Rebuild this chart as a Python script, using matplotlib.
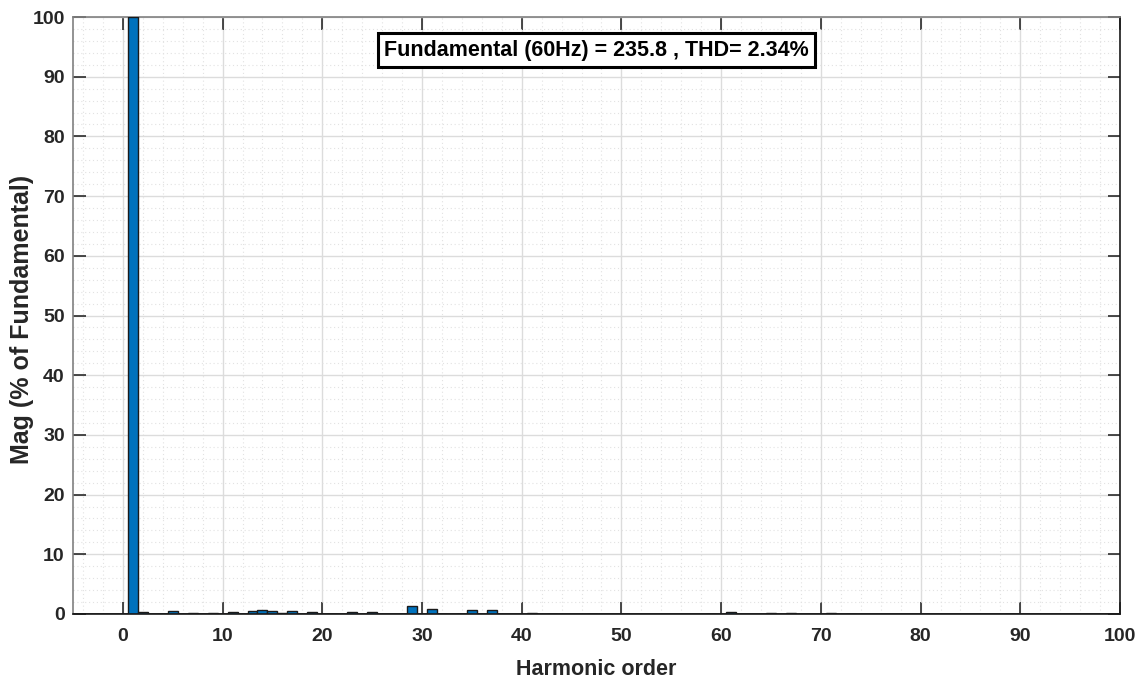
import numpy as np
import matplotlib.pyplot as plt
from matplotlib.ticker import MultipleLocator

plt.rcParams["font.family"] = ["Liberation Sans", "DejaVu Sans"]
plt.rcParams["font.weight"] = "bold"

# harmonic orders and magnitudes (% of fundamental)
harmonics = [1, 2, 4, 5, 7, 8, 9, 11, 13, 14, 15, 16, 17, 19, 21, 23, 25,
             29, 31, 32, 34, 35, 37, 41, 43, 47, 59, 61, 65, 67, 71, 73, 89, 99]
magnitudes = [100, 0.33, 0.05, 0.45, 0.15, 0.08, 0.12, 0.33, 0.45, 0.6, 0.5, 0.1, 0.45, 0.33, 0.05, 0.3, 0.38,
              1.35, 0.85, 0.05, 0.05, 0.67, 0.67, 0.15, 0.05, 0.03, 0.08, 0.3, 0.15, 0.15, 0.25, 0.07, 0.04, 0.02]

fundamental = 235.8
thd = 2.34
x_ticks = np.arange(0, 101, 10)
y_ticks = np.arange(0, 101, 10)

fig = plt.figure(figsize=(11.44, 6.84), dpi=100)
ax = fig.add_axes([73 / 1144, 1 - 614 / 684, (1120 - 73) / 1144, (614 - 17) / 684])

ax.bar(harmonics, magnitudes, width=1.0, color="#0072BD", edgecolor="#1a1a1a", linewidth=1.0, zorder=3)
ax.axhline(0, color="#1a1a1a", linewidth=1.2, zorder=4)

ax.set_xlim(-5, 100)
ax.set_ylim(0, 100)
ax.set_xticks(x_ticks)
ax.set_yticks(y_ticks)
ax.xaxis.set_minor_locator(MultipleLocator(2))
ax.yaxis.set_minor_locator(MultipleLocator(2))

ax.grid(True, which="major", color="#dcdcdc", linewidth=1.0, zorder=0)
ax.grid(True, which="minor", color="#e2e2e2", linestyle=(0, (1, 2.5)), linewidth=0.8, zorder=0)
ax.set_axisbelow(True)

ax.tick_params(axis="both", which="major", direction="in", length=9, width=1.1,
               color="#1a1a1a", labelsize=14, top=True, right=True)
ax.tick_params(axis="x", which="major", pad=10)
ax.tick_params(axis="y", which="major", pad=6)
ax.tick_params(axis="both", which="minor", length=0)
for lab in ax.get_xticklabels() + ax.get_yticklabels():
    lab.set_fontweight("bold")
    lab.set_color("#262626")

for side in ["bottom", "right"]:
    ax.spines[side].set_color("#1a1a1a")
    ax.spines[side].set_linewidth(1.2)
for side in ["top", "left"]:
    ax.spines[side].set_color("#808080")
    ax.spines[side].set_linewidth(1.2)

ax.set_xlabel("Harmonic order", fontsize=15.5, fontweight="bold", color="#262626")
ax.set_ylabel("Mag (% of Fundamental)", fontsize=18, fontweight="bold", color="#262626")
ax.xaxis.set_label_coords(0.5, -0.093)
ax.xaxis.label.set_va("center")
ax.yaxis.set_label_coords(-0.0487, 0.494)
ax.yaxis.label.set_va("center")

ax.text(0.5, 0.944, f"Fundamental (60Hz) = {fundamental} , THD= {thd}%",
        transform=ax.transAxes, ha="center", va="center", fontsize=15.5, fontweight="bold",
        color="black", zorder=6,
        bbox=dict(boxstyle="square,pad=0.3", facecolor="white", edgecolor="black", linewidth=2.2))

fig.savefig("out.png", dpi=100)
